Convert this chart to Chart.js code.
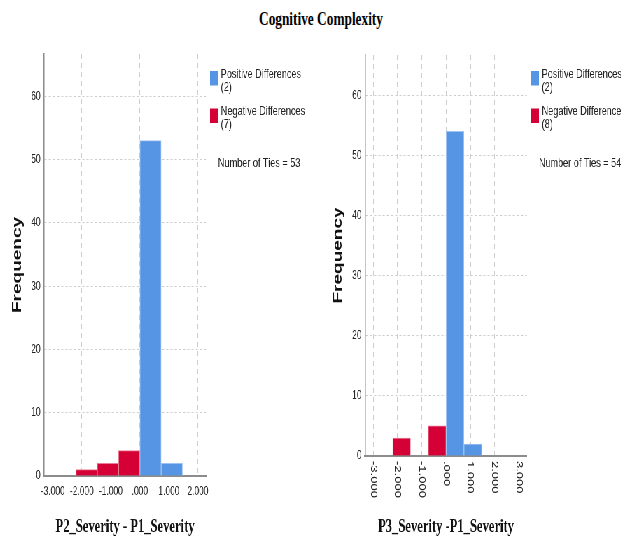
<!DOCTYPE html>
<html>
<head>
<meta charset="utf-8">
<script src="https://cdn.jsdelivr.net/npm/chart.js@4/dist/chart.umd.min.js"></script>
<style>
body { margin: 0; background: #fff; overflow: hidden; width: 621px; height: 539px; position: relative; }
#title { position: absolute; left: 0; top: 9px; width: 642px; text-align: center; line-height: 18px;
         font: bold 18px "Liberation Serif", "Times New Roman", serif; color: #000;
         transform: scaleX(0.74); transform-origin: 321px 0; }
/* SPSS-Grafik ist horizontal gestaucht -> ganze Zeichenfläche schmaler skalieren */
#wrap { position: absolute; left: 0; top: 0; width: 887px; height: 539px; transform: scaleX(0.7); transform-origin: 0 0; }
.box { position: absolute; top: 0; height: 539px; }
</style>
</head>
<body>
<div id="title">Cognitive Complexity</div>
<div id="wrap">
  <div class="box" style="left:0;width:444px"><canvas id="chartP2"></canvas></div>
  <div class="box" style="left:444px;width:443px"><canvas id="chartP3"></canvas></div>
</div>
<script>
// Klassenmitten der Histogramme und Häufigkeiten
const binCenters = [-1.833, -1.1, -0.367, 0.367, 1.1];
const countsP2 = [1, 2, 4, 53, 2];
const countsP3 = [3, 0, 5, 54, 2];

// Legende: positive / negative Differenzen, Ties
const posDiff = [2, 2];
const negDiff = [7, 8];
const ties = [53, 54];

const axisTitles = ["P2_Severity - P1_Severity", "P3_Severity -P1_Severity"];

const blue = "#5595e4", blueEdge = "#9fc3f0";
const red = "#d50035", redEdge = "#ea7d95";
const sans = '"Liberation Sans", Arial, sans-serif';

// SPSS Format: .000 statt 0.000
function fmt(v) {
    return v === 0 ? ".000" : v.toFixed(3);
}

// Legende rechts neben dem Plot
const diffLegend = {
    id: "diffLegend",
    afterDraw(chart, args, o) {
        const ctx = chart.ctx;
        const x = chart.chartArea.right;
        ctx.save();
        ctx.font = "13px " + sans;
        ctx.textBaseline = "alphabetic";
        ctx.fillStyle = blue;
        ctx.fillRect(x + 5.7, 71, 11.4, 14.5);
        ctx.fillStyle = red;
        ctx.fillRect(x + 5.7, 108.5, 11.4, 14.5);
        ctx.fillStyle = "#222";
        ctx.fillText("Positive Differences", x + 21, 78);
        ctx.fillText("(" + o.pos + ")", x + 21, 91);
        ctx.fillText("Negative Differences", x + 21, 114.5);
        ctx.fillText("(" + o.neg + ")", x + 21, 127.5);
        ctx.fillText("Number of Ties = " + o.ties, x + 17, 167);
        ctx.restore();
    }
};

// senkrechte Tick-Beschriftung (von oben nach unten)
const vertTicks = {
    id: "vertTicks",
    afterDraw(chart) {
        const s = chart.scales.x;
        const ctx = chart.ctx;
        ctx.save();
        ctx.font = "13px " + sans;
        ctx.fillStyle = "#222";
        ctx.textAlign = "left";
        ctx.textBaseline = "middle";
        s.ticks.forEach(function (t) {
            ctx.save();
            ctx.translate(s.getPixelForValue(t.value), s.top + 5);
            ctx.rotate(Math.PI / 2);
            ctx.fillText(fmt(t.value), 0, 0);
            ctx.restore();
        });
        ctx.restore();
    }
};

function makeChart(id, counts, c) {
    return new Chart(document.getElementById(id), {
        type: "bar",
        data: {
            datasets: [{
                data: binCenters.map((x, i) => ({ x: x, y: counts[i] })),
                backgroundColor: binCenters.map(x => x < 0 ? red : blue),
                borderColor: binCenters.map(x => x < 0 ? redEdge : blueEdge),
                borderWidth: 1,
                barPercentage: 1,
                categoryPercentage: 1
            }]
        },
        options: {
            responsive: true,
            maintainAspectRatio: false,
            animation: false,
            layout: { padding: { top: c.top, right: c.right, left: 0, bottom: 0 } },
            plugins: {
                legend: { display: false },
                tooltip: { enabled: false },
                diffLegend: { pos: c.pos, neg: c.neg, ties: c.ties }
            },
            scales: {
                x: {
                    type: "linear",
                    min: c.xmin,
                    max: c.xmax,
                    offset: false,
                    grid: { offset: false, color: "#cdcdcd", drawTicks: false },
                    border: { color: "#8c8c8c", width: 2, dash: [5, 4] },
                    ticks: {
                        stepSize: 1,
                        includeBounds: false,
                        autoSkip: false,
                        maxRotation: 0,
                        display: !c.vertical,
                        padding: 8,
                        color: "#222",
                        font: { family: sans, size: 12 },
                        callback: fmt
                    },
                    title: {
                        display: true,
                        text: c.title,
                        color: "#111",
                        font: { family: '"Liberation Serif", serif', size: 18, weight: "bold" },
                        padding: { top: 0, bottom: 1 }
                    },
                    afterFit: s => { s.height = c.xh; }
                },
                y: {
                    min: 0,
                    max: 66.7,
                    grid: { color: "#cdcdcd", drawTicks: false },
                    border: { color: "#8c8c8c", width: 1.5, dash: [3, 3] },
                    ticks: {
                        stepSize: 10,
                        includeBounds: false,
                        padding: 5,
                        color: "#222",
                        font: { family: sans, size: 12 }
                    },
                    title: {
                        display: true,
                        text: "Frequency",
                        color: "#111",
                        font: { family: sans, size: 19, weight: "bold" },
                        padding: { top: c.tp, bottom: 0 }
                    },
                    afterFit: s => { s.width = c.yw; }
                }
            }
        },
        plugins: c.vertical ? [diffLegend, vertTicks] : [diffLegend]
    });
}

makeChart("chartP2", countsP2, {
    title: axisTitles[0], xmin: -3.3, xmax: 2.28,
    top: 54, right: 149.7, xh: 63, yw: 62.9, tp: 13,
    pos: posDiff[0], neg: negDiff[0], ties: ties[0], vertical: false
});

makeChart("chartP3", countsP3, {
    title: axisTitles[1], xmin: -3.34, xmax: 3.33,
    top: 55, right: 134.1, xh: 83, yw: 77.4, tp: 27,
    pos: posDiff[1], neg: negDiff[1], ties: ties[1], vertical: true
});
</script>
</body>
</html>
